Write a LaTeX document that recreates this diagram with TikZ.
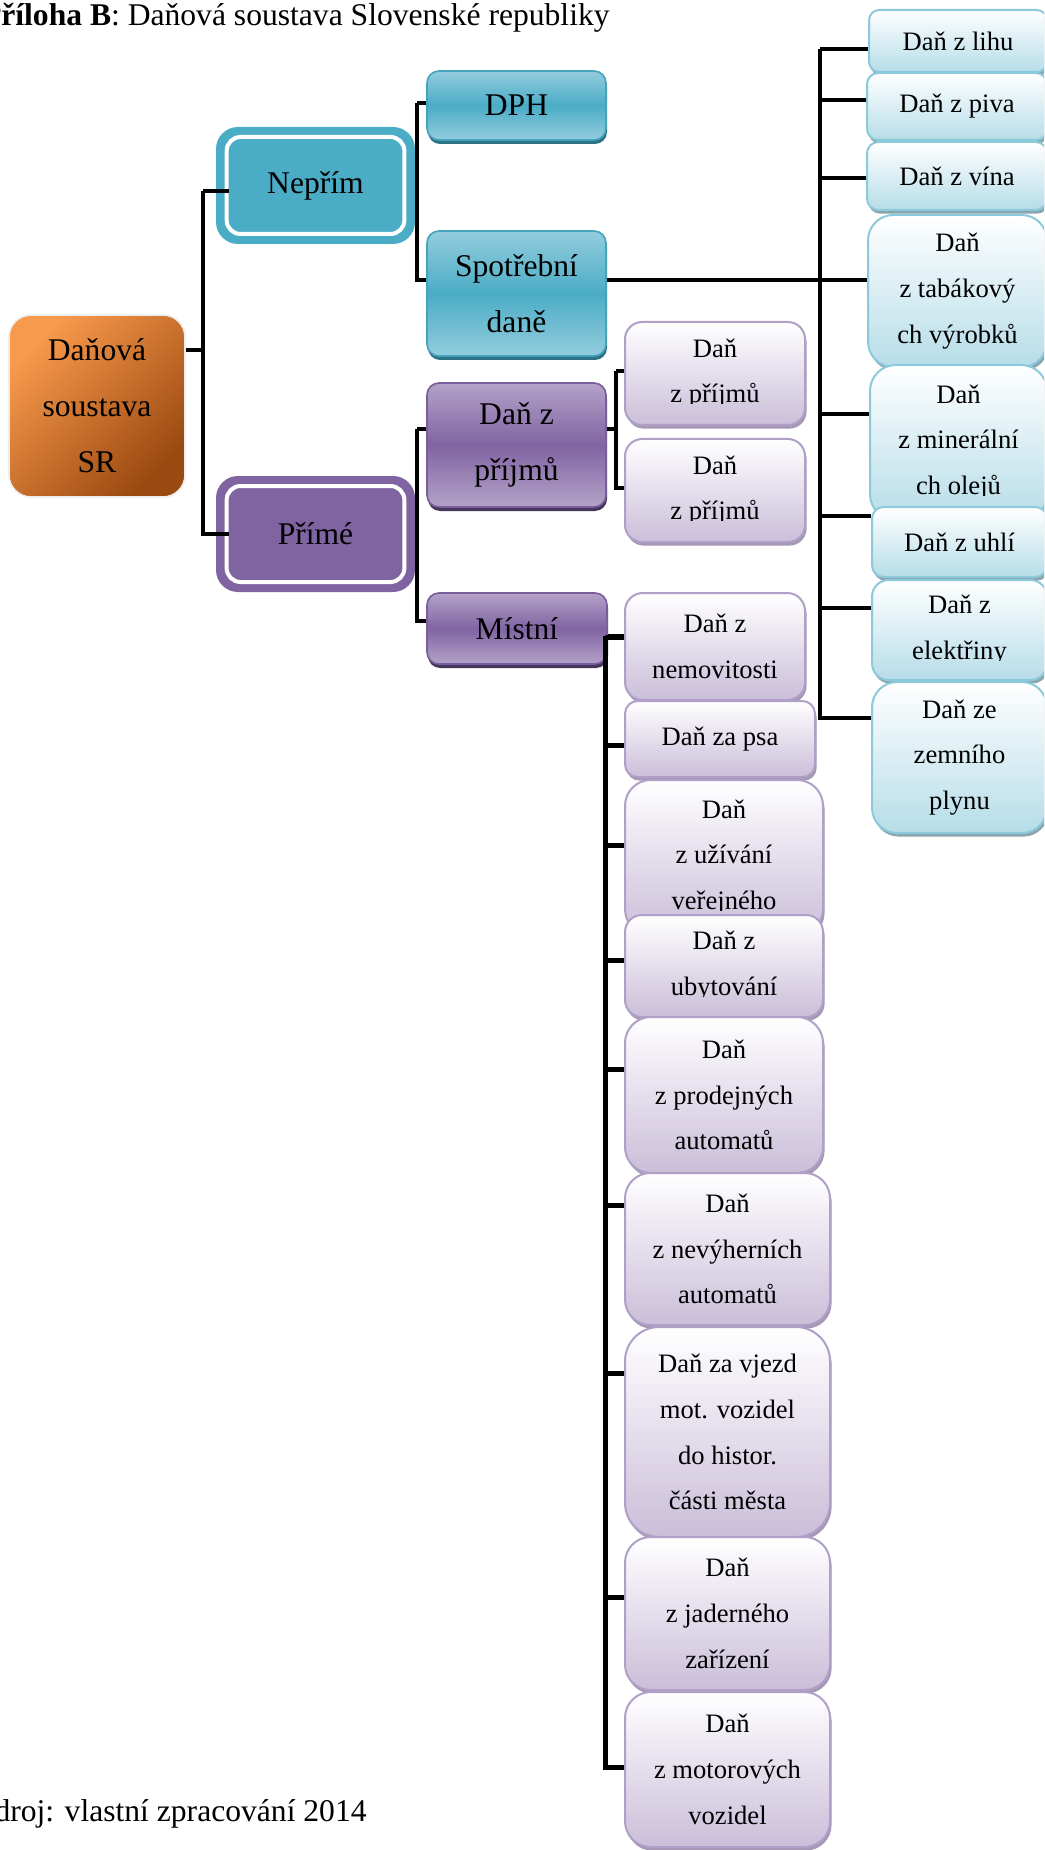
\documentclass[tikz,border=0pt]{standalone}
\usepackage{fontspec}
\setmainfont{Liberation Serif}
\usetikzlibrary{shadows}

% palette
\definecolor{aqua}{HTML}{4BACC6}
\definecolor{aquaLt}{HTML}{93CDDD}
\definecolor{aquaEdge}{HTML}{45A3BC}
\definecolor{aquaShade}{HTML}{2D7386}
\definecolor{purp}{HTML}{8064A2}
\definecolor{purpLt}{HTML}{B3A2C8}
\definecolor{purpEdge}{HTML}{7A5D9C}
\definecolor{purpShade}{HTML}{46365C}
\definecolor{kidBlueBot}{HTML}{B6DDE8}
\definecolor{kidBlueEdge}{HTML}{8CCADB}
\definecolor{kidBlueShade}{HTML}{8AA5AD}
\definecolor{kidPurpBot}{HTML}{CABED9}
\definecolor{kidPurpEdge}{HTML}{B09FC6}
\definecolor{kidPurpShade}{HTML}{A597B5}
\definecolor{orgA}{HTML}{F89A4C}
\definecolor{orgB}{HTML}{9A4910}
\definecolor{rootEdge}{HTML}{EEEEEE}

\tikzset{
  basebox/.style={inner sep=0pt, align=center},
  bigtext/.style={font=\fontsize{15.8}{28}\selectfont},
  smalltext/.style={font=\fontsize{13.3}{22.9}\selectfont},
  rootbox/.style={basebox, bigtext, draw=rootEdge, line width=0.8pt,
    rounded corners=11pt, top color=orgA, bottom color=orgB, shading angle=45},
  ringbox/.style={basebox, bigtext, fill=#1, rounded corners=11pt,
    path picture={\draw[white, line width=2pt, rounded corners=7pt]
      ([shift={(5.3pt,-5pt)}]path picture bounding box.north west) rectangle
      ([shift={(-5.3pt,5pt)}]path picture bounding box.south east);}},
  aquamid/.style={basebox, bigtext, draw=aquaEdge, line width=0.8pt,
    rounded corners=6pt, top color=aquaLt, bottom color=aquaLt, middle color=aqua,
    drop shadow={shadow xshift=0.5pt, shadow yshift=-2pt, fill=aquaShade, opacity=1}},
  purpmid/.style={basebox, bigtext, draw=purpEdge, line width=0.8pt,
    rounded corners=6pt, top color=purpLt, bottom color=purpLt, middle color=purp,
    drop shadow={shadow xshift=0.5pt, shadow yshift=-2pt, fill=purpShade, opacity=1}},
  aquakid/.style={basebox, smalltext, draw=kidBlueEdge, line width=1pt,
    top color=white, bottom color=kidBlueBot,
    drop shadow={shadow xshift=0.8pt, shadow yshift=-1.8pt, fill=kidBlueShade, opacity=1}},
  purpkid/.style={basebox, smalltext, draw=kidPurpEdge, line width=1pt,
    top color=white, bottom color=kidPurpBot,
    drop shadow={shadow xshift=0.8pt, shadow yshift=-1.8pt, fill=kidPurpShade, opacity=1}},
  kidlabel/.style={smalltext, align=center, inner sep=0pt},
  conn/.style={line width=2pt, black},
  thickconn/.style={line width=2.5pt, black},
  pagetext/.style={anchor=base east, inner sep=0pt, font=\fontsize{15.8}{19}\selectfont}
}

% box from (x1,y1) to (x2,y2), in pixel units, y downwards
\newcommand\diabox[7]{%
  \pgfmathsetmacro\diaboxr{0.0833*min(#5-#3,#6-#4)}%
  \node[rounded corners=\diaboxr pt, #1, minimum width={(#5-#3)*0.5pt},
        minimum height={(#6-#4)*0.5pt}] (#2) at ({(#3+#5)/2},{(#4+#6)/2}) {#7};}

% label of a box whose last line is cut off at a given height
\newcommand\clippedlabel[4]{%
  \begin{scope}
    \path (#2.east |- 0,#3) coordinate (#1-cut);
    \clip ([xshift=-15pt]#2.north west) rectangle ([xshift=15pt]#1-cut);
    \node[kidlabel] (#1) at (#2.center) {#4};
  \end{scope}}

\begin{document}
\begin{tikzpicture}[x=0.5pt, y=-0.5pt]
\useasboundingbox (0,0) rectangle (1044,1850);
\fill[white] (0,0) rectangle (1044,1850);
\clip (0,0) rectangle (1044,1850);

% root and first level
\diabox{rootbox}{root}{9}{315}{185}{497}{Daňová\\soustava\\SR}
\diabox{ringbox=aqua}{neprim}{216}{127}{415}{244}{Nepřím}
\diabox{ringbox=purp}{prime}{216}{476}{415}{592}{Přímé}

% second level
\diabox{aquamid}{dph}{427}{71}{606}{140}{DPH}
\diabox{aquamid}{spot}{427}{231}{606}{356}{Spotřební\\daně}
\diabox{purpmid}{prij}{427}{383}{606}{507}{Daň z\\příjmů}
\diabox{purpmid}{mistni}{427}{593}{607}{664}{Místní}

% income taxes
\diabox{purpkid}{pj1}{625}{322}{805}{425}{}
\clippedlabel{pj1-t}{pj1}{403.5}{Daň\\z příjmů}
\diabox{purpkid}{pj2}{625}{439}{805}{542}{}
\clippedlabel{pj2-t}{pj2}{520.5}{Daň\\z příjmů}

% excise duties
\diabox{aquakid}{r1}{869}{10}{1047}{72}{Daň z lihu}
\diabox{aquakid}{r2}{867}{73}{1047}{140}{Daň z piva}
\diabox{aquakid}{r3}{867}{142}{1047}{210}{Daň z vína}
\diabox{aquakid}{r4}{868}{215}{1047}{367}{Daň\\z tabákový\\ch výrobků}
\diabox{aquakid}{r5}{870}{365}{1047}{520}{}
\clippedlabel{r5-t}{r5}{495.5}{Daň\\z minerální\\ch olejů}
\diabox{aquakid}{r6}{872}{507}{1047}{577}{Daň z uhlí}
\diabox{aquakid}{r7}{872}{580}{1047}{680}{}
\clippedlabel{r7-t}{r7}{660}{Daň z\\elektřiny}
\diabox{aquakid}{r8}{872}{682}{1047}{833}{Daň ze\\zemního\\plynu}

% local taxes
\diabox{purpkid}{m1}{625}{593}{805}{700}{Daň z\\nemovitosti}
\diabox{purpkid}{m2}{625}{701}{815}{777}{Daň za psa}
\diabox{purpkid}{m3}{625}{780}{823}{935}{}
\clippedlabel{m3-t}{m3}{910.5}{Daň\\z užívání\\veřejného}
\diabox{purpkid}{m4}{625}{915}{823}{1017}{}
\clippedlabel{m4-t}{m4}{996}{Daň z\\ubytování}
\diabox{purpkid}{m5}{625}{1017}{823}{1173}{Daň\\z prodejných\\automatů}
\diabox{purpkid}{m6}{625}{1173}{830}{1325}{Daň\\z nevýherních\\automatů}
\diabox{purpkid}{m7}{625}{1327}{830}{1537}{Daň za vjezd\\mot. vozidel\\do histor.\\části města}
\diabox{purpkid}{m8}{625}{1537}{830}{1690}{Daň\\z jaderného\\zařízení}
\diabox{purpkid}{m9}{625}{1692}{830}{1847}{Daň\\z motorových\\vozidel}

% connectors: root
\coordinate (lsp) at (203,191);
\draw[conn] ([yshift=28pt]root.east) -- ([yshift=28pt]root.east -| lsp);
\draw[conn] ([xshift=6.5pt,yshift=-2.75pt]neprim.west) -| (lsp);
\draw[conn] ([xshift=6.5pt]prime.west) -| (lsp);

% connectors: indirect taxes
\coordinate (nsp) at (417,103);
\draw[conn] ([yshift=1.25pt]dph.west) -| (nsp);
\draw[conn] ([yshift=6.75pt]spot.west) -| (nsp);
\draw[conn] (neprim.east) -- (neprim.east -| nsp);

% connectors: direct taxes
\coordinate (psp) at (417,429);
\draw[conn] ([yshift=8pt]prij.west) -| (psp);
\draw[conn] ([yshift=3.75pt]mistni.west) -| (psp);
\draw[conn] (prime.east) -| (psp);

% connectors: income taxes
\coordinate (jsp) at (616,371);
\draw[conn] ([yshift=8pt]prij.east) -| (jsp);
\draw[conn] ([yshift=1.25pt]pj1.west) -| (jsp);
\draw[conn] ([yshift=1.25pt]pj2.west) -| (jsp);

% connectors: excise duties
\coordinate (rsp) at (820,49);
\draw[conn] ([yshift=6.75pt]spot.east) -- ([yshift=6.75pt]spot.east -| r4.west);
\draw[conn] ([yshift=-4pt]r1.west) -| (rsp);
\draw[conn] ([yshift=3.25pt]r2.west) -| (rsp);
\draw[conn] ([yshift=-1pt]r3.west) -| (rsp);
\draw[conn] ([yshift=5.5pt]r4.west) -| (rsp);
\draw[conn] ([yshift=14.25pt]r5.west) -| (rsp);
\draw[conn] ([yshift=13pt]r6.west) -| (rsp);
\draw[conn] ([yshift=11pt]r7.west) -| (rsp);
\draw[conn] ([yshift=19.75pt]r8.west) -| (rsp);

% connectors: local taxes
\coordinate (msp) at (605,636);
\draw[thickconn] ([yshift=-3.75pt]mistni.east) -- ([yshift=-3.75pt]mistni.east -| m1.west);
\draw[thickconn] ([yshift=4.75pt]m1.west) -| (msp);
\draw[thickconn] ([yshift=-3pt]m2.west) -| (msp);
\draw[thickconn] ([yshift=6.25pt]m3.west) -| (msp);
\draw[thickconn] ([yshift=3pt]m4.west) -| (msp);
\draw[thickconn] ([yshift=13pt]m5.west) -| (msp);
\draw[thickconn] ([yshift=22pt]m6.west) -| (msp);
\draw[thickconn] ([yshift=29.5pt]m7.west) -| (msp);
\draw[thickconn] ([yshift=8.25pt]m8.west) -| (msp);
\draw[thickconn] ([yshift=1.25pt]m9.west) -| (msp);

% title and source line
\node[pagetext] (title) at (610,26) {\textbf{Příloha B}: Daňová soustava Slovenské republiky};
\node[pagetext] (source) at (367,1821) {Zdroj: vlastní zpracování 2014};
\end{tikzpicture}
\end{document}
